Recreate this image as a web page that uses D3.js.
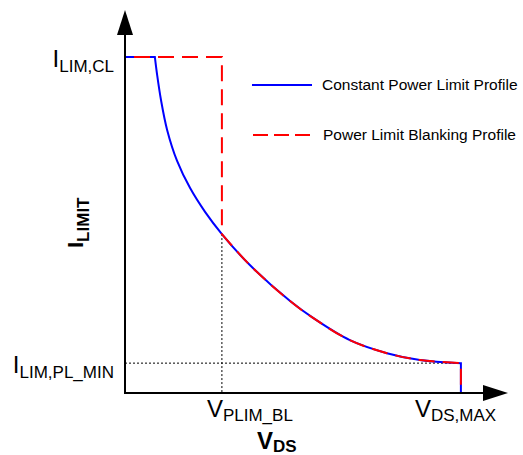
<!DOCTYPE html>
<meta charset="utf-8">
<head>
  <script src="https://d3js.org/d3.v7.min.js"></script>
  <style>
    body { margin: 0; background: #fff; }
    text { font-family: "Liberation Sans", Arial, sans-serif; fill: #000; }
  </style>
</head>
<body>
<div id="chart"></div>
<script>
  "use strict"

  // curve (arbitrary units, 0..100 on both axes)
  var vdsCurve = [7.8, 8.4, 9.4, 11.0, 13.6, 17.0, 20.9, 25.3, 32.6, 43.1, 49.1, 58.7, 68.4, 77.0, 87.7];
  var ilimCurve = [87.7, 83.0, 76.5, 68.7, 60.6, 53.5, 47.3, 41.5, 33.4, 24.0, 19.6, 13.8, 10.4, 8.6, 7.8];

  var iLimCl = 87.7;      // I_LIM,CL
  var iLimPlMin = 7.8;    // I_LIM,PL_MIN
  var vPlimBl = 25.3;     // V_PLIM_BL
  var vDsMax = 87.7;      // V_DS,MAX
  var iAtBl = 41.5;       // curve value at V_PLIM_BL

  var legendLabels = ["Constant Power Limit Profile", "Power Limit Blanking Profile"];

  var larguraSVG = 523, alturaSVG = 455;

  var svg = d3.select('#chart')
              .append('svg')
                .attr('width', larguraSVG)
                .attr('height', alturaSVG);

  var x = d3.scaleLinear().domain([0, 100]).range([125, 508]);
  var y = d3.scaleLinear().domain([0, 100]).range([393, 10]);

  var pontos = vdsCurve.map(function(v, i) { return [v, ilimCurve[i]]; });

  var linha = d3.line().x(function(d) { return x(d[0]); }).y(function(d) { return y(d[1]); });
  var curva = d3.line().x(function(d) { return x(d[0]); }).y(function(d) { return y(d[1]); })
                .curve(d3.curveCatmullRom.alpha(0.5));

  // blue: flat, curve, drop
  var caminhoAzul = linha([[0, iLimCl], [vdsCurve[0], iLimCl]]) +
                    curva(pontos).replace(/^M/, 'L') +
                    'L' + x(vDsMax) + ',' + y(0);

  // red: flat to V_PLIM_BL, drop, follow the curve, drop
  var resto = pontos.filter(function(d) { return d[0] >= vPlimBl; });
  var caminhoVermelho = linha([[0, iLimCl], [vPlimBl, iLimCl], [vPlimBl, iAtBl]]) +
                        curva(resto).replace(/^M/, 'L') +
                        'L' + x(vDsMax) + ',' + y(0);

  // dotted guides
  svg.append('line')
     .attr('x1', x(vPlimBl)).attr('x2', x(vPlimBl))
     .attr('y1', y(iAtBl)).attr('y2', y(0))
     .attr('stroke', '#000').attr('stroke-width', 1).attr('stroke-dasharray', '2,2');

  svg.append('line')
     .attr('x1', x(0)).attr('x2', x(vDsMax))
     .attr('y1', y(iLimPlMin)).attr('y2', y(iLimPlMin))
     .attr('stroke', '#000').attr('stroke-width', 1).attr('stroke-dasharray', '2,2');

  svg.append('path')
     .attr('d', caminhoAzul)
     .attr('fill', 'none')
     .attr('stroke', '#0000ff')
     .attr('stroke-width', 2);

  svg.append('path')
     .attr('d', caminhoVermelho)
     .attr('fill', 'none')
     .attr('stroke', '#ff0000')
     .attr('stroke-width', 2)
     .attr('stroke-dasharray', '16,8')
     .attr('stroke-dashoffset', 15);

  // axes with arrow heads
  svg.append('line')
     .attr('x1', x(0)).attr('x2', x(0))
     .attr('y1', y(0)).attr('y2', y(100) + 22)
     .attr('stroke', '#000').attr('stroke-width', 2);
  svg.append('path')
     .attr('d', 'M' + x(0) + ',' + y(100) + 'L' + (x(0) - 8) + ',' + (y(100) + 25) + 'L' + (x(0) + 8) + ',' + (y(100) + 25) + 'Z')
     .attr('fill', '#000');

  svg.append('line')
     .attr('x1', x(0) - 1).attr('x2', x(100) - 22)
     .attr('y1', y(0)).attr('y2', y(0))
     .attr('stroke', '#000').attr('stroke-width', 2);
  svg.append('path')
     .attr('d', 'M' + x(100) + ',' + y(0) + 'L' + (x(100) - 25) + ',' + (y(0) - 8) + 'L' + (x(100) - 25) + ',' + (y(0) + 8) + 'Z')
     .attr('fill', '#000');

  // labels with subscripts
  function rotulo(px, py, principal, sub, anchor, bold, tamanho, tamanhoSub, dy) {
    var t = svg.append('text')
               .attr('x', px).attr('y', py)
               .attr('text-anchor', anchor)
               .style('font-size', tamanho + 'px')
               .style('font-weight', bold ? 'bold' : 'normal');
    t.append('tspan').text(principal);
    t.append('tspan').style('font-size', tamanhoSub + 'px').attr('dy', dy).text(sub);
    return t;
  }

  rotulo(114, y(iLimCl) + 9.5, 'I', 'LIM,CL', 'end', false, 24, 17, 5);
  rotulo(114, y(iLimPlMin) + 9.5, 'I', 'LIM,PL_MIN', 'end', false, 24, 17, 5);
  rotulo(x(vPlimBl) - 15, 417, 'V', 'PLIM_BL', 'start', false, 24, 17, 4);
  rotulo(x(vDsMax) - 46, 417, 'V', 'DS,MAX', 'start', false, 24, 17, 4);
  rotulo(257, 449, 'V', 'DS', 'start', true, 24, 17, 3);

  var eixoY = svg.append('text')
                 .attr('transform', 'translate(83,248) rotate(-90)')
                 .style('font-size', '22px')
                 .style('font-weight', 'bold');
  eixoY.append('tspan').text('I');
  eixoY.append('tspan').style('font-size', '17px').attr('dy', 6).text('LIMIT');

  // legend
  svg.append('line')
     .attr('x1', 252).attr('x2', 312).attr('y1', 85).attr('y2', 85)
     .attr('stroke', '#0000ff').attr('stroke-width', 2);
  svg.append('text').attr('x', 322).attr('y', 90).style('font-size', '15.5px').text(legendLabels[0]);

  svg.append('line')
     .attr('x1', 253).attr('x2', 311).attr('y1', 135).attr('y2', 135)
     .attr('stroke', '#ff0000').attr('stroke-width', 2).attr('stroke-dasharray', '15,6');
  svg.append('text').attr('x', 323).attr('y', 140).style('font-size', '15.5px').text(legendLabels[1]);
</script>
</body>
